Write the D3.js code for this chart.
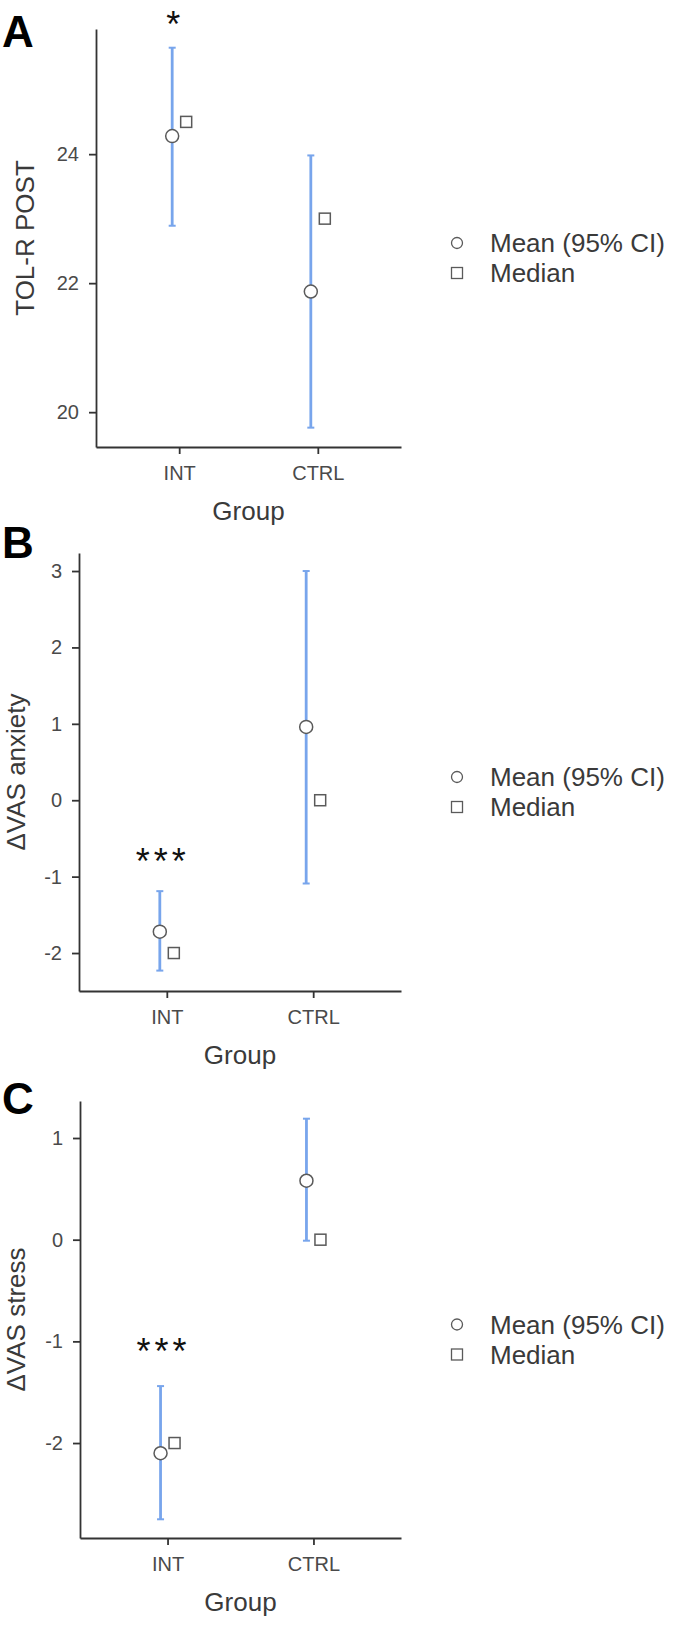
<!DOCTYPE html>
<html>
<head>
<meta charset="utf-8">
<script src="https://cdn.jsdelivr.net/npm/d3@7"></script>
<style>
  body { margin: 0; background: #fff; }
  text { font-family: "Liberation Sans", Arial, sans-serif; }
</style>
</head>
<body>
<svg id="chart" width="685" height="1626"></svg>
<script>
// categories
const groups = ["INT", "CTRL"];

// panel A: TOL-R POST
const tolMean = [24.28, 21.87];
const tolLower = [22.89, 19.76];
const tolUpper = [25.65, 23.98];
const tolMedian = [24.5, 23.0];
const tolTicks = [20, 22, 24];

// panel B: delta VAS anxiety
const anxMean = [-1.72, 0.96];
const anxLower = [-2.23, -1.09];
const anxUpper = [-1.19, 3.0];
const anxMedian = [-2, 0];
const anxTicks = [-2, -1, 0, 1, 2, 3];

// panel C: delta VAS stress
const strMean = [-2.1, 0.58];
const strLower = [-2.75, -0.01];
const strUpper = [-1.44, 1.19];
const strMedian = [-2, 0];
const strTicks = [-2, -1, 0, 1];

// significance marks (INT group)
const sigLabels = ["*", "***", "***"];
const sigValues = [26.12, -0.70, -1.03];

const legendLabels = ["Mean (95% CI)", "Median"];

const blue = "#78a5ec";
const symStroke = "#5a5a5a";

const svg = d3.select("#chart");

function rows(mean, lower, upper, median) {
  return groups.map((g, i) => ({
    group: g, mean: mean[i], lower: lower[i], upper: upper[i], median: median[i]
  }));
}

const panels = [
  { letter: "A", title: "TOL-R POST", data: rows(tolMean, tolLower, tolUpper, tolMedian),
    ticks: tolTicks, domain: [19.46, 25.94], sig: 0,
    left: 96, right: 401, top: 29, bottom: 447, titleX: 25, letterY: 47 },
  { letter: "B", title: "\u0394VAS anxiety", data: rows(anxMean, anxLower, anxUpper, anxMedian),
    ticks: anxTicks, domain: [-2.497, 3.236], sig: 1,
    left: 79, right: 401, top: 553, bottom: 991, titleX: 16, letterY: 558 },
  { letter: "C", title: "\u0394VAS stress", data: rows(strMean, strLower, strUpper, strMedian),
    ticks: strTicks, domain: [-2.934, 1.364], sig: 2,
    left: 80, right: 401, top: 1101, bottom: 1538, titleX: 16, letterY: 1114 }
];

panels.forEach(drawPanel);

function drawPanel(p) {
  const g = svg.append("g");

  const x = d3.scalePoint().domain(groups).range([p.left, p.right]).padding(0.6);
  const y = d3.scaleLinear().domain(p.domain).range([p.bottom, p.top]);

  // panel letter
  g.append("text")
    .attr("x", 2).attr("y", p.letterY)
    .attr("font-size", 44).attr("font-weight", "bold")
    .attr("fill", "#000")
    .text(p.letter);

  // axes
  const yAxis = g.append("g")
    .attr("transform", `translate(${p.left},0)`)
    .call(d3.axisLeft(y).tickValues(p.ticks).tickSize(7).tickSizeOuter(0)
      .tickPadding(10).tickFormat(d => String(d)));
  const xAxis = g.append("g")
    .attr("transform", `translate(0,${p.bottom})`)
    .call(d3.axisBottom(x).tickSize(7).tickSizeOuter(0).tickPadding(12));

  [yAxis, xAxis].forEach(a => {
    a.select(".domain").attr("stroke", "#333").attr("stroke-width", 1.8);
    a.selectAll(".tick line").attr("stroke", "#333").attr("stroke-width", 1.8);
    a.selectAll(".tick text").attr("font-size", 20).attr("fill", "#4a4a4a")
      .style("font-family", "'Liberation Sans', Arial, sans-serif");
  });

  // axis titles
  g.append("text")
    .attr("transform", `translate(${p.titleX},${(p.top + p.bottom) / 2}) rotate(-90)`)
    .attr("text-anchor", "middle").attr("dominant-baseline", "central")
    .attr("font-size", 26).attr("fill", "#3a3a3a")
    .text(p.title);
  g.append("text")
    .attr("x", (p.left + p.right) / 2).attr("y", p.bottom + 73)
    .attr("text-anchor", "middle")
    .attr("font-size", 26).attr("fill", "#3a3a3a")
    .text("Group");

  const dx = 7;

  // error bars
  const bars = g.selectAll("g.ci").data(p.data).enter().append("g").attr("class", "ci");
  bars.append("line")
    .attr("x1", d => x(d.group) - dx).attr("x2", d => x(d.group) - dx)
    .attr("y1", d => y(d.lower)).attr("y2", d => y(d.upper))
    .attr("stroke", blue).attr("stroke-width", 2.8);
  bars.selectAll("line.cap")
    .data(d => [d.lower, d.upper].map(v => ({ group: d.group, v })))
    .enter().append("line").attr("class", "cap")
    .attr("x1", d => x(d.group) - dx - 3.5).attr("x2", d => x(d.group) - dx + 3.5)
    .attr("y1", d => y(d.v)).attr("y2", d => y(d.v))
    .attr("stroke", blue).attr("stroke-width", 2);

  // medians
  g.selectAll("rect.median").data(p.data).enter().append("rect")
    .attr("class", "median")
    .attr("x", d => x(d.group) + dx - 5.5).attr("y", d => y(d.median) - 5.5)
    .attr("width", 11).attr("height", 11)
    .attr("fill", "#fff").attr("stroke", symStroke).attr("stroke-width", 1.5);

  // means
  g.selectAll("circle.mean").data(p.data).enter().append("circle")
    .attr("class", "mean")
    .attr("cx", d => x(d.group) - dx).attr("cy", d => y(d.mean))
    .attr("r", 6.5)
    .attr("fill", "#fff").attr("stroke", symStroke).attr("stroke-width", 1.5);

  // significance
  g.append("text")
    .attr("x", x("INT") - 6 + 2).attr("y", y(sigValues[p.sig]) + 20)
    .attr("text-anchor", "middle")
    .attr("letter-spacing", 4)
    .attr("font-size", 36).attr("fill", "#111")
    .text(sigLabels[p.sig]);

  // legend
  const ly = (p.top + p.bottom) / 2 + 5;
  const lg = g.append("g").attr("transform", `translate(457,${ly})`);
  lg.append("circle").attr("cx", 0).attr("cy", 0).attr("r", 5.5)
    .attr("fill", "#fff").attr("stroke", symStroke).attr("stroke-width", 1.3);
  lg.append("rect").attr("x", -5.5).attr("y", 30 - 5.5).attr("width", 11).attr("height", 11)
    .attr("fill", "#fff").attr("stroke", symStroke).attr("stroke-width", 1.3);
  lg.selectAll("text").data(legendLabels).enter().append("text")
    .attr("x", 33).attr("y", (d, i) => i * 30)
    .attr("dominant-baseline", "central")
    .attr("font-size", 26).attr("fill", "#3a3a3a")
    .text(d => d);
}
</script>
</body>
</html>
